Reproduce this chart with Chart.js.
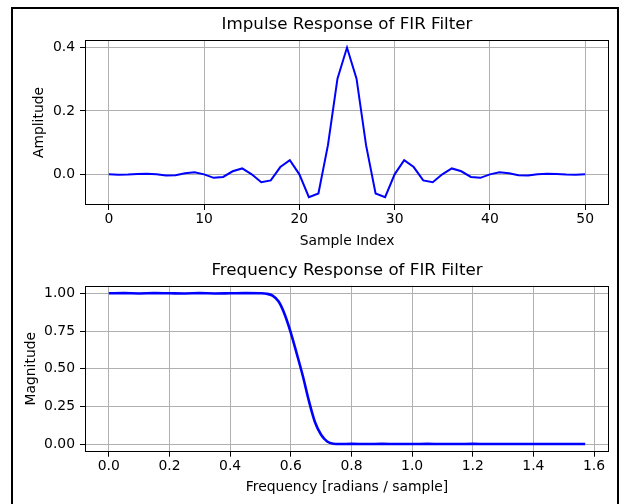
<!DOCTYPE html>
<html>
<head>
<meta charset="utf-8">
<script src="https://cdn.jsdelivr.net/npm/chart.js@4.4.1/dist/chart.umd.min.js"></script>
<style>
  html, body { margin: 0; padding: 0; background: #fff; }
  body { width: 622px; height: 504px; position: relative; overflow: hidden; }
  .panel { position: absolute; left: 0; width: 622px; height: 252px; }
  #frame { position: absolute; left: 11px; top: 7px; width: 604px; height: 520px;
           border: 2px solid #000; pointer-events: none; }
</style>
</head>
<body>
<div class="panel" style="top:0"><canvas id="impulse-chart"></canvas></div>
<div class="panel" style="top:252px"><canvas id="freq-chart"></canvas></div>
<div id="frame"></div>
<script>
const impulseAmp = [
  0, -0.001, -0.0008, 0.001, 0.002, 0, -0.0033, -0.0026, 0.0032, 0.0065,
  0, -0.011, -0.0082, 0.0097, 0.0186, 0, -0.025, -0.019, 0.023, 0.045,
  0, -0.072, -0.0605, 0.092, 0.302, 0.4, 0.302, 0.092, -0.0605, -0.072,
  0, 0.045, 0.023, -0.019, -0.025, 0, 0.0186, 0.0097, -0.0082, -0.011,
  0, 0.0065, 0.0032, -0.0026, -0.0033, 0, 0.002, 0.001, -0.0008, -0.001, 0
];
const impulseXTicks = [0, 10, 20, 30, 40, 50];
const impulseYTicks = [0, 0.2, 0.4];

const freqW = [
  0, 0.05, 0.10, 0.15, 0.20, 0.25, 0.30, 0.35, 0.40, 0.45, 0.50,
  0.52, 0.54, 0.56, 0.58, 0.60, 0.62, 0.64, 0.66, 0.68, 0.70, 0.72, 0.74, 0.76,
  0.80, 0.85, 0.90, 0.95, 1.00, 1.05, 1.10, 1.15, 1.20, 1.25, 1.30, 1.35, 1.40, 1.45, 1.50, 1.5708
];
const freqMag = [
  1.000, 1.001, 0.999, 1.001, 1.000, 0.999, 1.001, 0.999, 1.000, 1.001, 1.000,
  0.997, 0.984, 0.945, 0.860, 0.740, 0.598, 0.450, 0.285, 0.145, 0.062, 0.018, 0.003, 0.001,
  0.002, 0.001, 0.002, 0.001, 0.001, 0.002, 0.001, 0.001, 0.002, 0.001, 0.001, 0.001, 0.001, 0.001, 0.001, 0.001
];
const freqXTicks = [0, 0.2, 0.4, 0.6, 0.8, 1.0, 1.2, 1.4, 1.6];
const freqYTicks = [0, 0.25, 0.5, 0.75, 1.0];

const FONT = 'DejaVu Sans';
const TICK_SIZE = 13.9;
const TITLE_SIZE = 16.7;

// cornice completa attorno all'area del grafico (stile matplotlib)
const axesFrame = {
  id: 'axesFrame',
  afterDraw(chart) {
    const a = chart.chartArea, ctx = chart.ctx;
    ctx.save();
    ctx.strokeStyle = '#000';
    ctx.lineWidth = 1;
    ctx.strokeRect(Math.round(a.left) + 0.5, Math.round(a.top) + 0.5,
                   Math.round(a.right - a.left) - 1, Math.round(a.bottom - a.top) - 1);
    ctx.restore();
  }
};

function axisOpts(cfg) {
  return {
    type: 'linear',
    min: cfg.min, max: cfg.max,
    afterBuildTicks: s => { s.ticks = cfg.ticks.map(v => ({ value: v })); },
    afterFit: s => { if (cfg.width != null) s.width = cfg.width; if (cfg.height != null) s.height = cfg.height; },
    grid: { color: '#b0b0b0', lineWidth: 1, tickColor: '#000', tickLength: 5, drawTicks: true },
    border: { display: false },
    ticks: { color: '#000', font: { family: FONT, size: TICK_SIZE }, padding: cfg.tickPad,
             callback: cfg.fmt, maxRotation: 0, autoSkip: false },
    title: { display: true, text: cfg.title, color: '#000', font: { family: FONT, size: TICK_SIZE },
             padding: cfg.titlePad }
  };
}

function makeChart(id, data, lineWidth, smooth, o) {
  return new Chart(document.getElementById(id), {
    type: 'line',
    data: { datasets: [{ data: data, borderColor: '#0000ff', borderWidth: lineWidth,
                         pointRadius: 0, fill: false, tension: 0,
                         cubicInterpolationMode: smooth ? 'monotone' : 'default' }] },
    options: {
      responsive: false, animation: false, maintainAspectRatio: false,
      layout: { padding: o.padding },
      plugins: {
        legend: { display: false }, tooltip: { enabled: false },
        // fullSize false: titolo centrato sull'area del grafico, come matplotlib
        title: { display: true, text: o.title, color: '#000', fullSize: false,
                 font: { family: FONT, size: TITLE_SIZE, weight: 'normal' },
                 padding: { top: 0, bottom: o.titleGap } }
      },
      scales: { x: axisOpts(o.x), y: axisOpts(o.y) }
    },
    plugins: [axesFrame]
  });
}

function init() {
  ['impulse-chart', 'freq-chart'].forEach(id => {
    const c = document.getElementById(id); c.width = 622; c.height = 252;
  });

  const impulsePts = impulseAmp.map((v, i) => ({ x: i, y: v }));
  makeChart('impulse-chart', impulsePts, 2, false, {
    title: 'Impulse Response of FIR Filter',
    padding: { top: 15, left: 0, right: 13, bottom: 0 },
    titleGap: 5,
    x: { min: -2.5, max: 52.5, ticks: impulseXTicks, fmt: v => String(v), height: 47,
         tickPad: 1, title: 'Sample Index', titlePad: { top: 0, bottom: 2.7 } },
    y: { min: -0.0967, max: 0.4237, ticks: impulseYTicks, fmt: v => v.toFixed(1), width: 85,
         tickPad: 5, title: 'Amplitude', titlePad: { top: 30.7, bottom: 0 } }
  });

  const freqPts = freqW.map((w, i) => ({ x: w, y: freqMag[i] }));
  makeChart('freq-chart', freqPts, 2.6, true, {
    title: 'Frequency Response of FIR Filter',
    padding: { top: 9, left: 0, right: 13, bottom: 0 },
    titleGap: 4.7,
    x: { min: -0.0785, max: 1.6493, ticks: freqXTicks, fmt: v => v.toFixed(1), height: 52.3,
         tickPad: 1, title: 'Frequency [radians / sample]', titlePad: { top: 0, bottom: 8.7 } },
    y: { min: -0.05, max: 1.05, ticks: freqYTicks, fmt: v => v.toFixed(2), width: 85,
         tickPad: 5, title: 'Magnitude', titlePad: { top: 22.7, bottom: 0 } }
  });
}

if (document.readyState === 'loading') {
  document.addEventListener('DOMContentLoaded', init);
} else {
  init();
}
</script>
</body>
</html>
